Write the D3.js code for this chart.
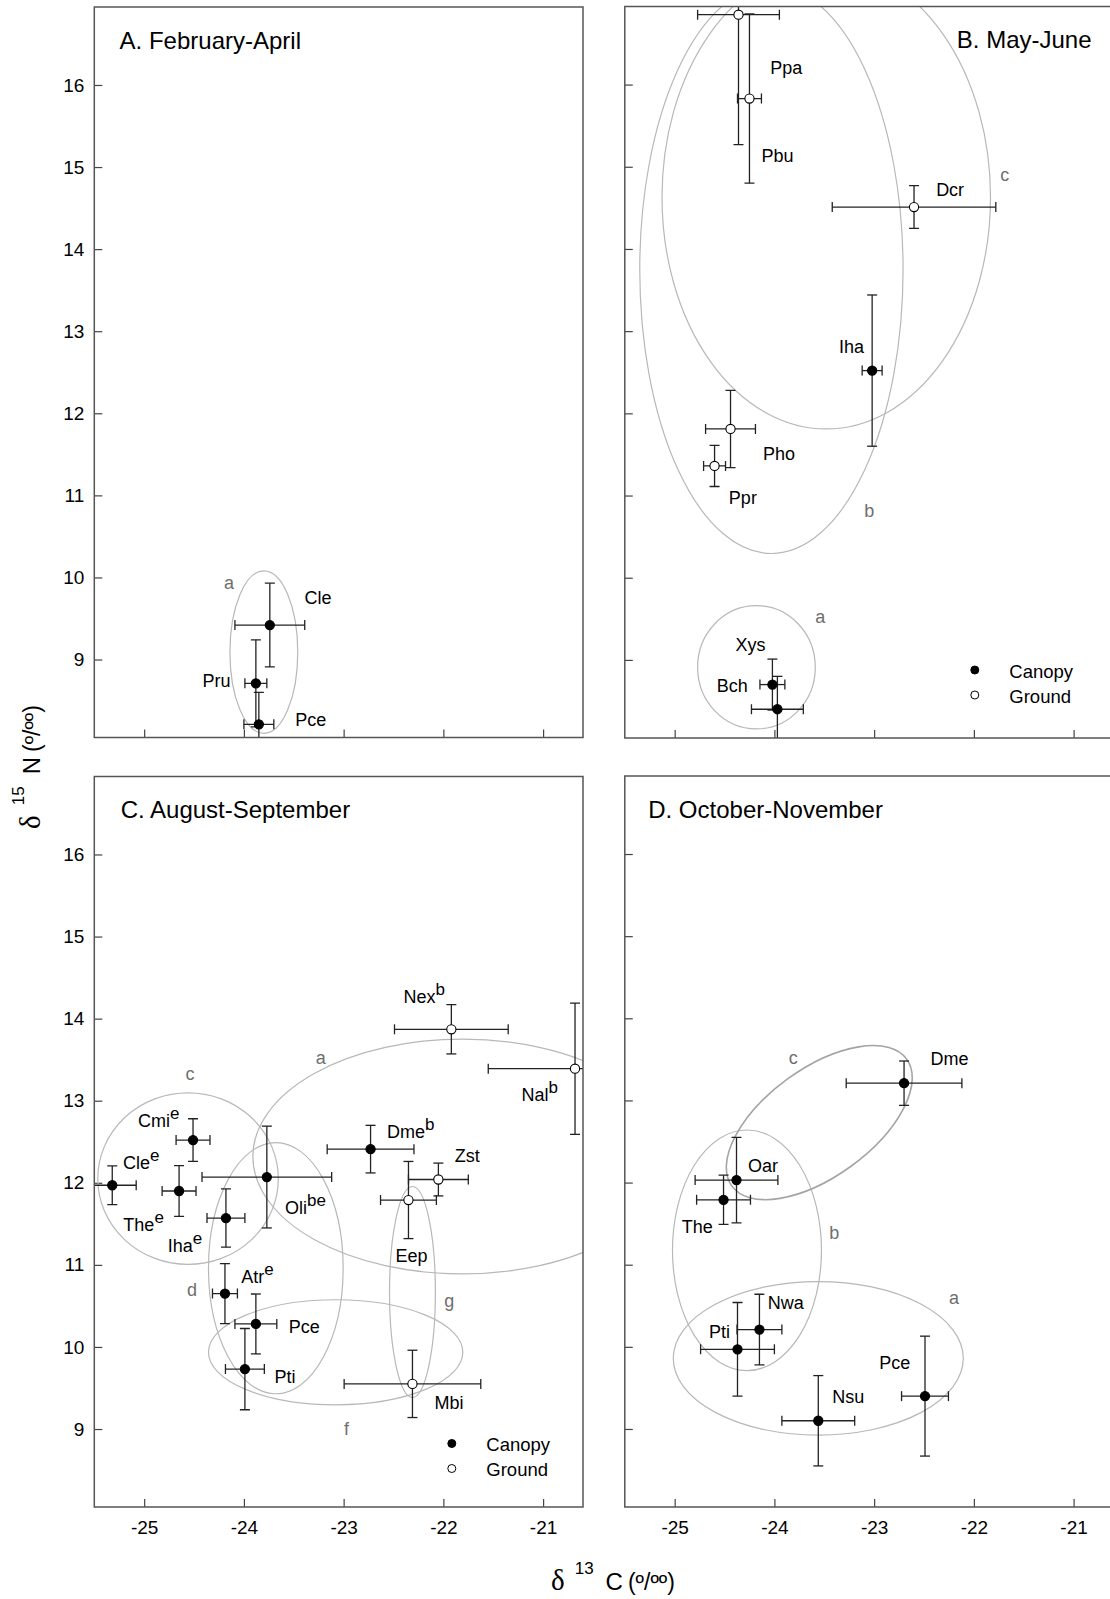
<!DOCTYPE html>
<html lang="en">
<head>
<meta charset="utf-8">
<title>d13C / d15N by season</title>
<script src="https://cdn.jsdelivr.net/npm/d3@7"></script>
<style>
	body { margin: 0; background: #fff; }
	svg text { font-family: "Liberation Sans", Arial, Helvetica, sans-serif; fill: #000; }
	.tick line { stroke: #444; stroke-width: 1.2; }
	.tick text { font-size: 19px; }
	.frame { fill: none; stroke: #555; stroke-width: 1.5; }
	.env { fill: none; stroke: #b8b8b8; stroke-width: 1.2; }
	.grp { fill: #6e6e6e; font-size: 18px; }
	.bar { stroke: #222; stroke-width: 1.3; }
	.lab { font-size: 18px; }
</style>
</head>
<body>
<div id="chart"></div>
<script>

// ---------- data ----------
var ticksC = [-25, -24, -23, -22, -21];
var ticksN = [9, 10, 11, 12, 13, 14, 15, 16];

// A. February-April
var aSpecies = ["Cle", "Pru", "Pce"];
var aSup     = ["", "", ""];
var aStratum = ["Canopy", "Canopy", "Canopy"];
var aC   = [-23.74, -23.88, -23.85];
var aCsd = [0.35, 0.11, 0.15];
var aN   = [9.42, 8.71, 8.21];
var aNsd = [0.51, 0.53, 0.39];
var aGroups = ["a"];
var aGrpC  = [-23.80];
var aGrpN  = [9.09];
var aGrpRC = [0.34];
var aGrpRN = [0.99];
var aGrpTilt = [0];

// B. May-June
var bSpecies = ["Ppa", "Pbu", "Dcr", "Iha", "Pho", "Ppr", "Bch", "Xys"];
var bSup     = ["", "", "", "", "", "", "", ""];
var bStratum = ["Ground", "Ground", "Ground", "Canopy", "Ground", "Ground", "Canopy", "Canopy"];
var bC   = [-24.36, -24.25, -22.60, -23.02, -24.44, -24.60, -24.02, -23.97];
var bCsd = [0.41, 0.12, 0.82, 0.10, 0.25, 0.11, 0.125, 0.26];
var bN   = [16.85, 15.83, 14.51, 12.52, 11.81, 11.36, 8.70, 8.40];
var bNsd = [1.58, 1.03, 0.26, 0.92, 0.47, 0.25, 0.31, 0.40];
var bGroups = ["a", "b", "c"];
var bGrpC  = [-24.18, -24.03, -23.48];
var bGrpN  = [8.91, 13.75, 14.63];
var bGrpRC = [0.59, 1.32, 1.647];
var bGrpRN = [0.75, 3.455, 2.82];
var bGrpTilt = [0, 0, 0];

// C. August-September
var cSpecies = ["Cle", "Cmi", "The", "Iha", "Oli", "Atr", "Pce", "Pti", "Dme", "Nex", "Nal", "Zst", "Eep", "Mbi"];
var cSup     = ["e", "e", "e", "e", "be", "e", "", "", "b", "b", "b", "", "", ""];
var cStratum = ["Canopy", "Canopy", "Canopy", "Canopy", "Canopy", "Canopy", "Canopy", "Canopy", "Canopy",
                "Ground", "Ground", "Ground", "Ground", "Ground"];
var cC   = [-25.32, -24.51, -24.65, -24.18, -23.77, -24.19, -23.88, -23.99, -22.73, -21.92, -20.68, -22.05, -22.35, -22.31];
var cCsd = [0.24, 0.17, 0.17, 0.19, 0.65, 0.125, 0.21, 0.195, 0.435, 0.57, 0.87, 0.30, 0.28, 0.685];
var cN   = [11.97, 12.52, 11.90, 11.57, 12.07, 10.65, 10.28, 9.73, 12.41, 13.87, 13.39, 12.04, 11.79, 9.55];
var cNsd = [0.235, 0.26, 0.31, 0.355, 0.62, 0.365, 0.365, 0.495, 0.29, 0.30, 0.80, 0.20, 0.47, 0.41];
var cGroups = ["a", "c", "d", "f", "g"];
var cGrpC  = [-21.81, -24.56, -23.68, -23.08, -22.31];
var cGrpN  = [12.32, 12.05, 10.96, 9.935, 10.67];
var cGrpRC = [2.10, 0.905, 0.675, 1.275, 0.23];
var cGrpRN = [1.43, 1.045, 1.53, 0.64, 1.285];
var cGrpTilt = [0, 0, 0, 0, 0];

// D. October-November
var dSpecies = ["Dme", "Oar", "The", "Nwa", "Pti", "Nsu", "Pce"];
var dSup     = ["", "", "", "", "", "", ""];
var dStratum = ["Canopy", "Canopy", "Canopy", "Canopy", "Canopy", "Canopy", "Canopy"];
var dC   = [-22.70, -24.38, -24.51, -24.15, -24.37, -23.56, -22.49];
var dCsd = [0.58, 0.415, 0.27, 0.225, 0.37, 0.365, 0.235];
var dN   = [13.21, 12.03, 11.79, 10.21, 9.97, 9.10, 9.40];
var dNsd = [0.27, 0.52, 0.30, 0.43, 0.57, 0.55, 0.73];
var dGroups = ["a", "b", "c"];
var dGrpC  = [-23.56, -24.275, -23.55];
var dGrpN  = [9.86, 11.175, 12.73];
var dGrpRC = [1.454, 0.747, 1.083];
var dGrpRN = [0.935, 1.465, 0.657];
var dGrpTilt = [0, 0, -36];

// ---------- layout (label placement, not data) ----------
// species label offsets in px from the point: [dx, dy, anchor]
var aLab = [[34.6, -21, "start"], [-25.4, 4, "end"], [36.4, 1.7, "start"]];
var bLab = [[31.8, 59, "start"], [12.1, 63, "start"], [22.1, -10.7, "start"], [-8.2, -18, "end"],
            [32.5, 30.7, "start"], [14.3, 38, "start"], [-24.6, 7.3, "end"], [-41.8, -58.3, "start"]];
var cLab = [[10.7, -16, "start"], [-55, -13.3, "start"], [-55.7, 39.7, "start"], [-58.2, 33.7, "start"],
            [18.2, 37.3, "start"], [16.4, -11, "start"], [32.9, 9, "start"], [29.6, 14, "start"],
            [16.4, -11.3, "start"], [-47.9, -26.7, "start"], [-53.6, 32.3, "start"], [16.4, -17.6, "start"],
            [-12.9, 61.7, "start"], [22.1, 25.6, "start"]];
var dLab = [[26.4, -17.7, "start"], [11.4, -8, "start"], [-41.8, 32.7, "start"], [8.2, -20.7, "start"],
            [-7.5, -11, "end"], [13.9, -18, "start"], [-14.6, -27.3, "end"]];
// group letter positions (data units)
var aGrpPos = [[-24.15, 9.93]];
var bGrpPos = [[-23.54, 9.53], [-23.05, 10.81], [-21.69, 14.90]];
var cGrpPos = [[-23.23, 13.53], [-24.54, 13.33], [-24.52, 10.70], [-22.97, 9.00], [-21.94, 10.56]];
var dGrpPos = [[-22.20, 10.60], [-23.40, 11.385], [-23.81, 13.52]];

var W = 1110, H = 1599;
var xDomain = [-25.5, -20.6], yDomain = [8.05, 16.95];
var panelW = 488.7;

function rows(species, sup, stratum, c, csd, n, nsd, lab) {
	return species.map(function(s, i) {
		return {name: s, sup: sup[i], stratum: stratum[i], c: c[i], csd: csd[i], n: n[i], nsd: nsd[i],
			dx: lab[i][0], dy: lab[i][1], anchor: lab[i][2]};
	});
}
function groups(names, c, n, rc, rn, tilt, pos) {
	return names.map(function(g, i) {
		return {name: g, c: c[i], n: n[i], rc: rc[i], rn: rn[i], tilt: tilt[i], lc: pos[i][0], ln: pos[i][1]};
	});
}

var panels = [
	{id: "A", title: "A. February-April", left: 94.3, top: 7, bottom: 737.5, titleX: 25.3,
	 xLabels: false, yLabels: true, pts: rows(aSpecies, aSup, aStratum, aC, aCsd, aN, aNsd, aLab),
	 grps: groups(aGroups, aGrpC, aGrpN, aGrpRC, aGrpRN, aGrpTilt, aGrpPos), legend: null},
	{id: "B", title: "B. May-June", left: 624.8, top: 6.5, bottom: 738, titleX: 332,
	 xLabels: false, yLabels: false, pts: rows(bSpecies, bSup, bStratum, bC, bCsd, bN, bNsd, bLab),
	 grps: groups(bGroups, bGrpC, bGrpN, bGrpRC, bGrpRN, bGrpTilt, bGrpPos), legend: [350, -68]},
	{id: "C", title: "C. August-September", left: 94.3, top: 776.5, bottom: 1507, titleX: 26.4,
	 xLabels: true, yLabels: true, pts: rows(cSpecies, cSup, cStratum, cC, cCsd, cN, cNsd, cLab),
	 grps: groups(cGroups, cGrpC, cGrpN, cGrpRC, cGrpRN, cGrpTilt, cGrpPos), legend: [357.5, -63.5]},
	{id: "D", title: "D. October-November", left: 624.8, top: 776, bottom: 1507, titleX: 23.4,
	 xLabels: true, yLabels: false, pts: rows(dSpecies, dSup, dStratum, dC, dCsd, dN, dNsd, dLab),
	 grps: groups(dGroups, dGrpC, dGrpN, dGrpRC, dGrpRN, dGrpTilt, dGrpPos), legend: null}
];

var svg = d3.select("#chart")
	.append("svg")
	.attr("width", W)
	.attr("height", H);

panels.forEach(function(p) {
	var x = d3.scaleLinear().domain(xDomain).range([p.left, p.left + panelW]);
	var y = d3.scaleLinear().domain(yDomain).range([p.bottom, p.top]);
	var kx = x(1) - x(0), ky = y(0) - y(1);
	var g = svg.append("g").attr("class", "panel-" + p.id);

	g.append("clipPath").attr("id", "clip" + p.id)
		.append("rect")
		.attr("x", p.left).attr("y", p.top)
		.attr("width", panelW).attr("height", p.bottom - p.top);

	// axes, ticks pointing inwards
	var ax = d3.axisBottom(x).tickValues(ticksC).tickSize(-8).tickPadding(13.5)
		.tickFormat(p.xLabels ? function(d) { return String(d); } : function() { return ""; });
	g.append("g").attr("transform", "translate(0," + p.bottom + ")").call(ax)
		.call(function(s) { s.select(".domain").remove(); });

	var ay = d3.axisLeft(y).tickValues(ticksN).tickSize(-8).tickPadding(10)
		.tickFormat(p.yLabels ? function(d) { return String(d); } : function() { return ""; });
	g.append("g").attr("transform", "translate(" + p.left + ",0)").call(ay)
		.call(function(s) { s.select(".domain").remove(); });

	g.selectAll(".tick text").attr("fill", "#000").style("font-family", "'Liberation Sans', Arial, sans-serif");

	var plot = g.append("g").attr("clip-path", "url(#clip" + p.id + ")");

	// group envelopes
	plot.selectAll(".env")
		.data(p.grps)
		.enter()
		.append("ellipse")
		.attr("class", "env")
		.attr("cx", function(d) { return x(d.c); })
		.attr("cy", function(d) { return y(d.n); })
		.attr("rx", function(d) { return d.rc * kx; })
		.attr("ry", function(d) { return d.rn * ky; })
		.attr("transform", function(d) { return "rotate(" + d.tilt + "," + x(d.c) + "," + y(d.n) + ")"; })
		.style("stroke", function(d) { return d.tilt ? "#a4a4a4" : null; })
		.style("stroke-width", function(d) { return d.tilt ? 1.6 : null; });

	g.selectAll(".grp")
		.data(p.grps)
		.enter()
		.append("text")
		.attr("class", "grp")
		.attr("x", function(d) { return x(d.lc); })
		.attr("y", function(d) { return y(d.ln); })
		.attr("dy", "0.35em")
		.attr("text-anchor", "middle")
		.text(function(d) { return d.name; });

	// error bars
	var cap = 5;
	var eb = plot.selectAll(".eb").data(p.pts).enter().append("g").attr("class", "eb");
	eb.append("line").attr("class", "bar")
		.attr("x1", function(d) { return x(d.c - d.csd); })
		.attr("x2", function(d) { return x(d.c + d.csd); })
		.attr("y1", function(d) { return y(d.n); })
		.attr("y2", function(d) { return y(d.n); });
	[-1, 1].forEach(function(s) {
		eb.append("line").attr("class", "bar")
			.attr("x1", function(d) { return x(d.c + s * d.csd); })
			.attr("x2", function(d) { return x(d.c + s * d.csd); })
			.attr("y1", function(d) { return y(d.n) - cap; })
			.attr("y2", function(d) { return y(d.n) + cap; });
		eb.append("line").attr("class", "bar")
			.attr("x1", function(d) { return x(d.c) - cap; })
			.attr("x2", function(d) { return x(d.c) + cap; })
			.attr("y1", function(d) { return y(d.n + s * d.nsd); })
			.attr("y2", function(d) { return y(d.n + s * d.nsd); });
	});
	eb.append("line").attr("class", "bar")
		.attr("x1", function(d) { return x(d.c); })
		.attr("x2", function(d) { return x(d.c); })
		.attr("y1", function(d) { return y(d.n - d.nsd); })
		.attr("y2", function(d) { return y(d.n + d.nsd); });

	// points
	plot.selectAll(".pt")
		.data(p.pts)
		.enter()
		.append("circle")
		.attr("class", "pt")
		.attr("cx", function(d) { return x(d.c); })
		.attr("cy", function(d) { return y(d.n); })
		.attr("r", 4.6)
		.attr("fill", function(d) { return d.stratum == "Canopy" ? "#000" : "#fff"; })
		.attr("stroke", "#000")
		.attr("stroke-width", 1.1);

	// species labels
	var lab = g.selectAll(".lab")
		.data(p.pts)
		.enter()
		.append("text")
		.attr("class", "lab")
		.attr("x", function(d) { return x(d.c) + d.dx; })
		.attr("y", function(d) { return y(d.n) + d.dy; })
		.attr("text-anchor", function(d) { return d.anchor; });
	lab.append("tspan").text(function(d) { return d.name; });
	lab.filter(function(d) { return d.sup; })
		.append("tspan").attr("dy", -8).style("font-size", "17px")
		.text(function(d) { return d.sup; });

	// frame
	g.append("rect").attr("class", "frame")
		.attr("x", p.left).attr("y", p.top)
		.attr("width", panelW).attr("height", p.bottom - p.top);

	// panel title
	g.append("text")
		.attr("x", p.left + p.titleX)
		.attr("y", p.top + 41.5)
		.style("font-size", "24px")
		.text(p.title);

	// legend
	if (p.legend) {
		var lg = g.append("g").attr("transform", "translate(" + (p.left + p.legend[0]) + "," + (p.bottom + p.legend[1]) + ")");
		["Canopy", "Ground"].forEach(function(k, i) {
			lg.append("circle").attr("cx", 0).attr("cy", i * 25).attr("r", 4)
				.attr("fill", k == "Canopy" ? "#000" : "#fff").attr("stroke", "#000").attr("stroke-width", 1);
			lg.append("text").attr("x", 34.5).attr("y", i * 25 + 7.5)
				.style("font-size", "18.5px").text(k);
		});
	}
});

// axis titles
var serif = "'Liberation Serif', 'DejaVu Serif', serif";
function axisTitle(sel, iso, el) {
	sel.append("tspan").style("font-family", serif).style("font-size", "29px").text("δ");
	sel.append("tspan").attr("dx", 10).attr("dy", -16).style("font-size", "17px").text(iso);
	sel.append("tspan").attr("dx", 12).attr("dy", 16).style("font-size", "24px").text(el);
	sel.append("tspan").attr("dx", 5).style("font-size", "23px").text("(º/ºº)");
}
axisTitle(svg.append("text").attr("x", 551).attr("y", 1590), "13", "C");
axisTitle(svg.append("text").attr("transform", "translate(40,767) rotate(-90)").attr("text-anchor", "middle"), "15", "N");

</script>
</body>
</html>
